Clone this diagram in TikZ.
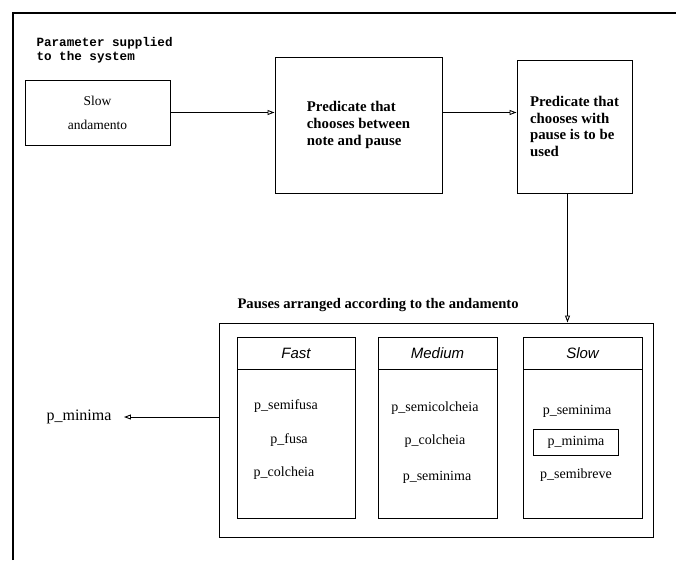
\documentclass[tikz,border=0pt]{standalone}
\usepackage{fontspec}
\setmainfont{Liberation Serif}
\setsansfont{Liberation Sans}
\setmonofont{Liberation Mono}
\usetikzlibrary{arrows.meta,positioning}
\tikzset{
  box/.style={draw, line width=1pt, inner sep=0pt},
  head/.style={draw, line width=1pt, minimum height=32pt, font=\sffamily\itshape\fontsize{15}{17}\selectfont},
  item/.style={font=\fontsize{14}{16}\selectfont},
  link/.style={-{Triangle[open,length=7pt,width=5pt]}, line width=0.9pt}
}
\begin{document}
\begin{tikzpicture}[x=1pt, y=-1pt, font=\fontsize{13}{16}\selectfont]
      \useasboundingbox (0,0) rectangle (676,560);
      % frame
      \draw[line width=1.3pt] (13,560) -- (13,13) -- (676,13);
      \node[anchor=north west, align=left, font=\ttfamily\bfseries\fontsize{12.6}{14}\selectfont] (param) at (33,34) {Parameter supplied\\to the system};
      \node[box, minimum width=145pt, minimum height=65pt, align=center, font=\fontsize{13.5}{16}\selectfont] (slowin) at (97.5,112.5) {Slow\\[8pt]andamento};
      \node[box, minimum width=167pt, minimum height=136pt, align=left, font=\bfseries\fontsize{14.8}{17}\selectfont] (pred1) at (358.5,125) {Predicate that\\chooses between\\note and pause};
      \node[box, minimum width=115pt, minimum height=133pt, align=left, font=\bfseries\fontsize{14.8}{16.7}\selectfont] (pred2) at (574.5,126.5) {Predicate that\\chooses with\\pause is to be\\used};
      \draw[link] (slowin.east) -- (slowin.east -| pred1.west);
      \draw[link] (pred1.east |- slowin.east) -- (pred2.west |- slowin.east);
      % pauses
      \node[box, minimum width=434pt, minimum height=214pt] (pauses) at (436,430) {};
      \node[anchor=west, font=\bfseries\fontsize{14.6}{16}\selectfont] (ptitle) at (234,305) {Pauses arranged according to the andamento};
      \draw[link] ([xshift=-7pt]pred2.south) -- ([xshift=-7pt]pred2.south |- pauses.north);
      \node[box, minimum width=118pt, minimum height=181pt] (fast) at (296,427.5) {};
      \node[box, minimum width=119pt, minimum height=181pt] (medium) at (437.5,427.5) {};
      \node[box, minimum width=119pt, minimum height=181pt] (slow) at (582.5,427.5) {};
      \node[head, minimum width=118pt, anchor=north] (fasth) at (fast.north) {Fast};
      \node[head, minimum width=119pt, anchor=north] (mediumh) at (medium.north) {Medium};
      \node[head, minimum width=119pt, anchor=north] (slowh) at (slow.north) {Slow};
      \node[item] (f1) at (286,406) {p\_semifusa};
      \node[item] (f2) at (289,440) {p\_fusa};
      \node[item] (f3) at (284,473) {p\_colcheia};
      \node[item] (m1) at (435,408) {p\_semicolcheia};
      \node[item] (m2) at (435,441) {p\_colcheia};
      \node[item] (m3) at (437,477) {p\_seminima};
      \node[item] (s1) at (577,411) {p\_seminima};
      \node[item, draw, line width=0.9pt, minimum width=85pt, minimum height=26pt, inner sep=0pt] (s2) at (576,442) {p\_minima};
      \node[item] (s3) at (576,475) {p\_semibreve};
      \node[item, font=\fontsize{16}{18}\selectfont] (out) at (79,417) {p\_minima};
      \draw[link, shorten >=9pt] (pauses.west |- out) -- (out);
    \end{tikzpicture}
\end{document}
